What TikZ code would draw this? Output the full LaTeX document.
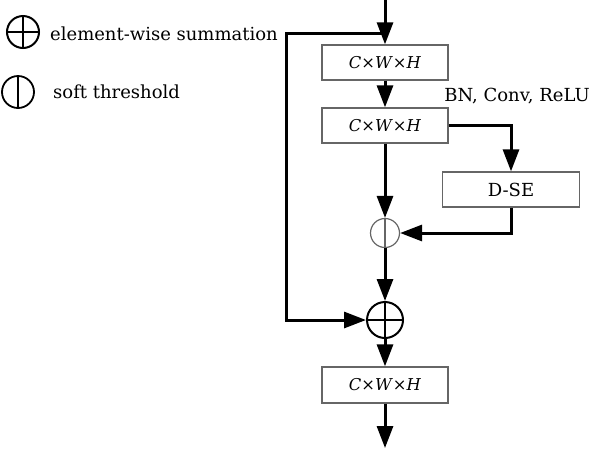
\documentclass[tikz,border=0pt]{standalone}
\usepackage{fontspec}
\setmainfont{DejaVu Serif}
\usetikzlibrary{arrows.meta}
\tikzset{
  box/.style={draw=black!60, line width=1.3pt, minimum width=126pt, minimum height=35pt, inner sep=0pt, font=\fontsize{16.3}{18}\selectfont},
  arr/.style={line width=3pt, -{Triangle[length=22pt,width=16pt]}},
  lbl/.style={font=\fontsize{18}{21}\selectfont, inner sep=0pt},
  thr/.style={circle, draw=black!60, line width=1.2pt, minimum size=#1, inner sep=0pt,
    path picture={\draw[line width=2.6pt] (path picture bounding box.north) -- (path picture bounding box.south);}},
  sumc/.style={circle, draw=black, line width=2pt, minimum size=#1, inner sep=0pt,
    path picture={\draw[line width=2pt] (path picture bounding box.north) -- (path picture bounding box.south)
      (path picture bounding box.west) -- (path picture bounding box.east);}},
}
\newcommand{\cwh}{\textit{C}×\textit{W}×\textit{H}}
\begin{document}
\begin{tikzpicture}[x=1pt,y=-1pt]
\useasboundingbox (0,0) rectangle (593,448);
% legend
\node[sumc=32pt] (legsum) at (23,32) {};
\node[lbl, anchor=west] (legsumtxt) at (50,34) {element-wise summation};
\node[thr=32pt, draw=black, line width=1.8pt] (legthr) at (18,92) {};
\node[lbl, anchor=west] (legthrtxt) at (53,92) {soft threshold};
% main column
\node[box] (b1) at (385,62.5) {\cwh};
\node[box] (b2) at (385,125.5) {\cwh};
\node[box, minimum width=137pt, font=\fontsize{18}{21}\selectfont] (dse) at (511,189.5) {D-SE};
\node[thr=29pt] (st) at (385,233) {};
\node[sumc=36pt] (sum) at (385,320) {};
\node[box, minimum height=36pt] (b3) at (385,385) {\cwh};
\node[lbl] (bn) at (517,96) {BN, Conv, ReLU};
\coordinate (in) at (385,0);
\coordinate (out) at (385,448);
\coordinate (split) at (385,33);
\coordinate (skip) at (286,33);
% connectors
\draw[arr] (in) -- (b1);
\draw[arr] (split) -- (skip) |- (sum);
\draw[arr] (b1) -- (b2);
\draw[arr] (b2.east) -| (dse.north);
\draw[arr] (dse.south) |- (st.east);
\draw[arr] (b2) -- (st);
\draw[arr] (st) -- (sum);
\draw[arr] (sum) -- (b3);
\draw[arr] (b3) -- (out);
\end{tikzpicture}
\end{document}
